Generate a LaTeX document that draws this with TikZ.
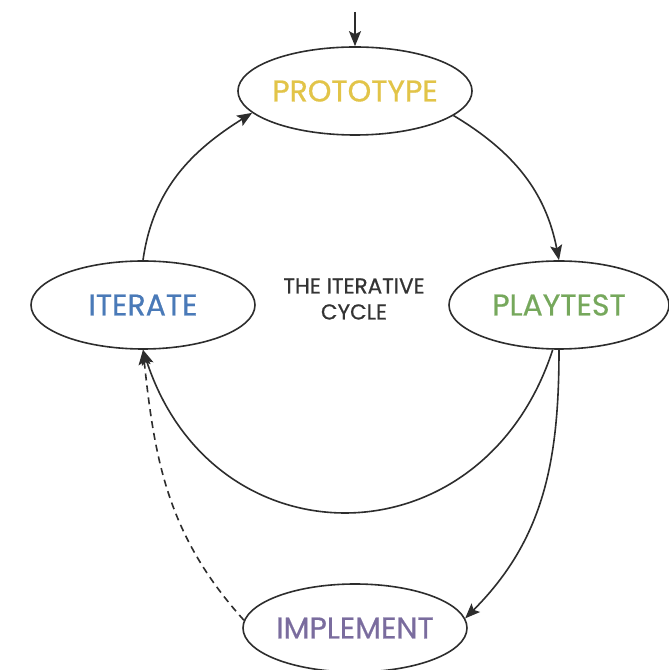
\documentclass[tikz,border=0pt]{standalone}
\usepackage{fontspec}
\setmainfont{Poppins}
\newfontfamily\phasefamily{Poppins}[FakeBold=0.6]
\usepackage{xcolor}
\usetikzlibrary{shapes.geometric, arrows.meta}

\definecolor{protoyellow}{RGB}{226,196,72}
\definecolor{iterblue}{RGB}{74,122,184}
\definecolor{playgreen}{RGB}{118,168,92}
\definecolor{implpurple}{RGB}{122,108,158}
\definecolor{linegray}{RGB}{45,45,45}
\definecolor{textgray}{RGB}{51,51,51}
\newcommand{\phasefont}{\phasefamily\fontsize{30}{32}\selectfont}
\newcommand{\cyclefont}{\phasefamily\fontsize{21.5}{26}\selectfont}

\begin{document}
\begin{tikzpicture}[x=1pt, y=1pt, >={Stealth[length=15pt, width=12pt, inset=3pt]},
    phase/.style={ellipse, draw=linegray, line width=1.6pt, fill=white,
      minimum width=224pt, minimum height=88pt, inner sep=0pt, font=\phasefont},
    flow/.style={->, line width=1.6pt, draw=linegray}]
    \useasboundingbox[fill=white] (0,0) rectangle (669,670);

    % Phases
    \node[phase, text=protoyellow] (prototype) at (355,579) {PROTOTYPE};
    \node[phase, text=iterblue]    (iterate)   at (143,365) {ITERATE};
    \node[phase, text=playgreen, minimum width=220pt] (playtest) at (559,365) {PLAYTEST};
    \node[phase, text=implpurple]  (implement) at (355,42)  {IMPLEMENT};
    \node[font=\cyclefont, text=textgray, align=center] (cycle) at (354,371)
      {THE ITERATIVE\\CYCLE};
    \coordinate (entry) at (355,658);

    % Cycle
    \draw[flow] (entry) -- (prototype.north);
    \draw[flow] (iterate.north) to[out=82, in=212] (prototype.192);
    \draw[flow] (prototype.346) to[out=-31, in=101] (playtest.north);
    \draw[flow] (playtest.262) to[out=-108, in=-72, looseness=1.42] (iterate.south);
    \draw[flow] (playtest.south) to[out=-90, in=45] (implement.5);
    \draw[flow, dash pattern=on 7pt off 5pt] (implement.176) to[out=132, in=-84] (iterate.south);
\end{tikzpicture}
\end{document}
